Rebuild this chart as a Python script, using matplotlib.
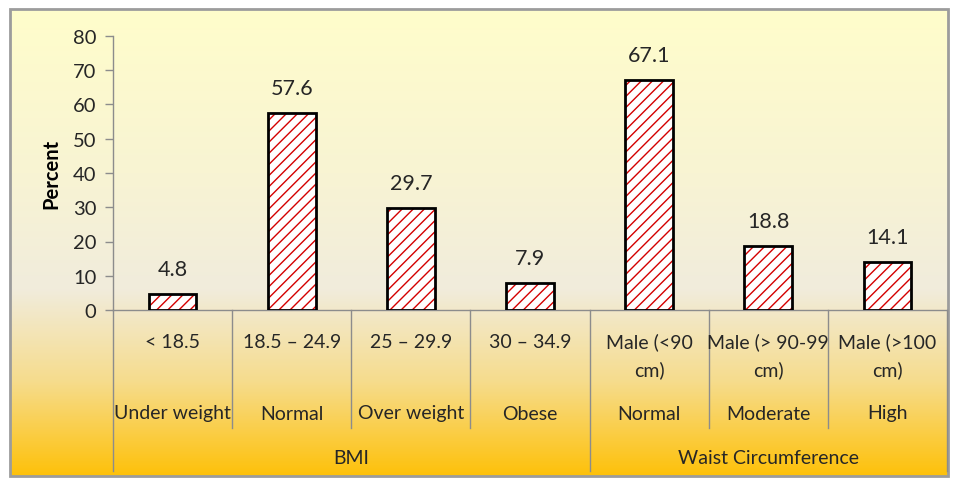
import numpy as np
import matplotlib
matplotlib.use("Agg")
import matplotlib.pyplot as plt
from matplotlib import transforms
from matplotlib.colors import LinearSegmentedColormap
from matplotlib.patches import Rectangle

# ---- data ----
ranges = ["< 18.5", "18.5 \u2013 24.9", "25 \u2013 29.9", "30 \u2013 34.9",
          "Male (<90\ncm)", "Male (> 90-99\ncm)", "Male (>100\ncm)"]
classes = ["Under weight", "Normal", "Over weight", "Obese",
           "Normal", "Moderate", "High"]
values = [4.8, 57.6, 29.7, 7.9, 67.1, 18.8, 14.1]
groups = ["BMI", "Waist Circumference"]
group_sizes = [4, 3]
yticks = [0, 10, 20, 30, 40, 50, 60, 70, 80]

plt.rcParams['font.family'] = ['Lato', 'DejaVu Sans']
W, H = 958, 481
fig = plt.figure(figsize=(W / 100, H / 100), dpi=100)
fig.patch.set_facecolor("white")

# background gradient panel
bg = fig.add_axes([0, 0, 1, 1], zorder=-10)
bg.set_xlim(0, W)
bg.set_ylim(H, 0)
bg.axis("off")
cmap = LinearSegmentedColormap.from_list(
    "bgc", [(0.0, "#FFFDCB"), (0.35, "#F8F4D3"), (0.6, "#F1ECDC"),
            (0.8, "#F6DC8C"), (1.0, "#FEC10A")])
grad = np.linspace(0, 1, 256).reshape(-1, 1)
bg.imshow(grad, cmap=cmap, aspect="auto", extent=[10, 948, 477, 10], zorder=0)
bg.add_patch(Rectangle((10, 10), 938, 467, fill=False, edgecolor="#9C9C9C", lw=2, zorder=2))

# main axes
x0, x1 = 113, 947
ytop, ybot = 37, 311
ax = fig.add_axes([x0 / W, 1 - ybot / H, (x1 - x0) / W, (ybot - ytop) / H])
ax.set_facecolor("none")
n = len(values)
xs = np.arange(n)
ax.set_xlim(-0.5, n - 0.5)
ax.set_ylim(0, 80)

plt.rcParams['hatch.linewidth'] = 1.0
ax.bar(xs, values, width=0.4, color="white", edgecolor="#D40000", hatch="///", lw=0, zorder=2)
ax.bar(xs, values, width=0.4, fill=False, edgecolor="black", lw=2, zorder=3)

for x, v in zip(xs, values):
    ax.annotate(f"{v}", (x, v), xytext=(0, 18), textcoords="offset points",
                ha="center", va="center", fontsize=15.5, color="#262626")

ax.set_yticks(yticks)
ax.tick_params(axis="y", direction="out", length=6, width=1, color="#8C8C8C",
               labelsize=14.5, labelcolor="#262626", pad=6)
ax.set_xticks([])
for s in ["top", "right"]:
    ax.spines[s].set_visible(False)
ax.spines["left"].set_color("#8C8C8C")
ax.spines["bottom"].set_color("#8C8C8C")
ax.spines["left"].set_linewidth(1)
ax.spines["bottom"].set_linewidth(1)

ax.set_ylabel("Percent", fontsize=14.5, fontweight="bold", color="black", labelpad=8)

# category labels below axis
tr = transforms.blended_transform_factory(ax.transData, fig.transFigure)
def fy(p):
    return 1 - p / H

fs = 14
for x, r, c in zip(xs, ranges, classes):
    lines = r.split("\n")
    for k, ln in enumerate(lines):
        ax.text(x, fy(342 + 28 * k), ln, transform=tr, ha="center", va="center",
                fontsize=fs, color="#262626", clip_on=False)
    ax.text(x, fy(414), c, transform=tr, ha="center", va="center",
            fontsize=fs, color="#262626", clip_on=False)

# separators
bounds = np.arange(n + 1) - 0.5
group_edges = [0]
for g in group_sizes:
    group_edges.append(group_edges[-1] + g)
for i, b in enumerate(bounds):
    end = 472 if i in group_edges else 429
    ax.plot([b, b], [fy(311), fy(end)], transform=tr, color="#8C8C8C", lw=1, clip_on=False)

start = 0
for g, sz in zip(groups, group_sizes):
    center = start + (sz - 1) / 2
    ax.text(center, fy(458), g, transform=tr, ha="center", va="center",
            fontsize=fs, color="#262626", clip_on=False)
    start += sz

fig.savefig("out.png", dpi=100)
